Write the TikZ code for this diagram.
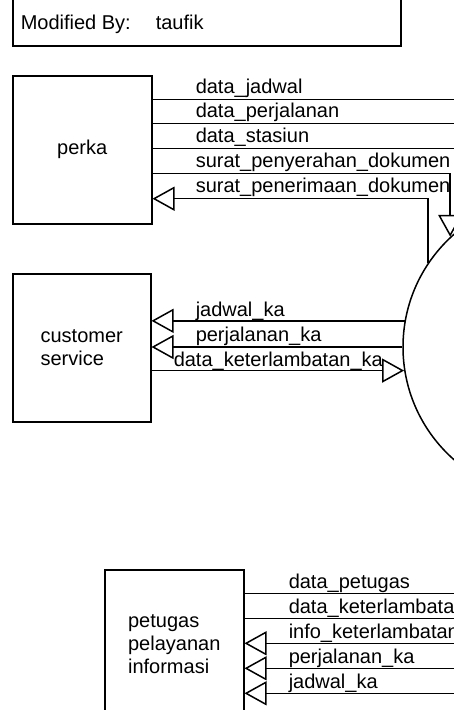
\documentclass[tikz,border=0pt]{standalone}
\usepackage{fontspec}
\setmainfont{Liberation Sans}
\usetikzlibrary{arrows.meta,calc}
\begin{document}
\begin{tikzpicture}[x=1pt,y=-1pt,line width=1.5pt,
  every node/.style={font=\fontsize{20}{23.3}\selectfont},
  box/.style={draw,rectangle,minimum width=139pt,minimum height=148pt,anchor=north west,align=left,inner sep=0pt},
  proc/.style={draw,circle,minimum size=300pt,inner sep=0pt},
  lbl/.style={anchor=base west,inner sep=0pt},
  tip/.style={-{Triangle[open,length=22pt,width=24pt]}}]
\useasboundingbox (0,0) rectangle (454,710);
\clip (0,0) rectangle (454,710);

% header box
\node[draw,rectangle,minimum width=388pt,minimum height=80pt,anchor=south west,inner sep=0pt] (mod) at (12,46.7) {};
\node[lbl] (modlbl) at (20,29) {Modified By:};
\node[lbl] (modval) at (155,29) {taufik};

% entities and process
\node[box] (perka) at (12,75) {perka};
\node[box,minimum width=138pt] (cs) at (12,273) {customer\\service};
\node[box] (pet) at (104,569.3) {petugas\\pelayanan\\informasi};
\node[proc] (p) at (553,347) {};

% perka flows
\coordinate (a1) at (460,99.3);
\coordinate (a2) at (460,123.3);
\coordinate (a3) at (460,148.7);
\coordinate (a4) at (0,173.3);
\coordinate (a5) at (0,198.7);
\draw (perka.east |- a1) -- (a1);
\draw (perka.east |- a2) -- (a2);
\draw (perka.east |- a3) -- (a3);
\draw[tip] (perka.east |- a4) -| (p.133.4);
\draw[tip] (p.146.6) |- (perka.east |- a5);
\node[lbl] (t1) at (195,93.3) {data\_jadwal};
\node[lbl] (t2) at (195,117.3) {data\_perjalanan};
\node[lbl] (t3) at (195,142.7) {data\_stasiun};
\node[lbl] (t4) at (195,167.3) {surat\_penyerahan\_dokumen};
\node[lbl] (t5) at (195,192.7) {surat\_penerimaan\_dokumen};

% customer service flows
\draw[tip] (p.170.3) -- (cs.east |- p.170.3);
\draw[tip] (p.180) -- (cs.east |- p.180);
\draw[tip] (cs.east |- p.189.2) -- (p.189.2);
\node[lbl] (c1) at (195,316.7) {jadwal\_ka};
\node[lbl] (c2) at (195,341.7) {perjalanan\_ka};
\node[lbl] (c3) at (173,366) {data\_keterlambatan\_ka};

% petugas flows
\coordinate (b1) at (460,593.3);
\coordinate (b2) at (460,618.7);
\coordinate (b3) at (460,643.3);
\coordinate (b4) at (460,668.3);
\coordinate (b5) at (460,693.3);
\draw (pet.east |- b1) -- (b1);
\draw (pet.east |- b2) -- (b2);
\draw[tip] (b3) -- (pet.east |- b3);
\draw[tip] (b4) -- (pet.east |- b4);
\draw[tip] (b5) -- (pet.east |- b5);
\node[lbl] (d1) at (288,588) {data\_petugas};
\node[lbl] (d2) at (288,613) {data\_keterlambatan};
\node[lbl] (d3) at (288,638) {info\_keterlambatan};
\node[lbl] (d4) at (288,663) {perjalanan\_ka};
\node[lbl] (d5) at (288,688) {jadwal\_ka};
\end{tikzpicture}
\end{document}
